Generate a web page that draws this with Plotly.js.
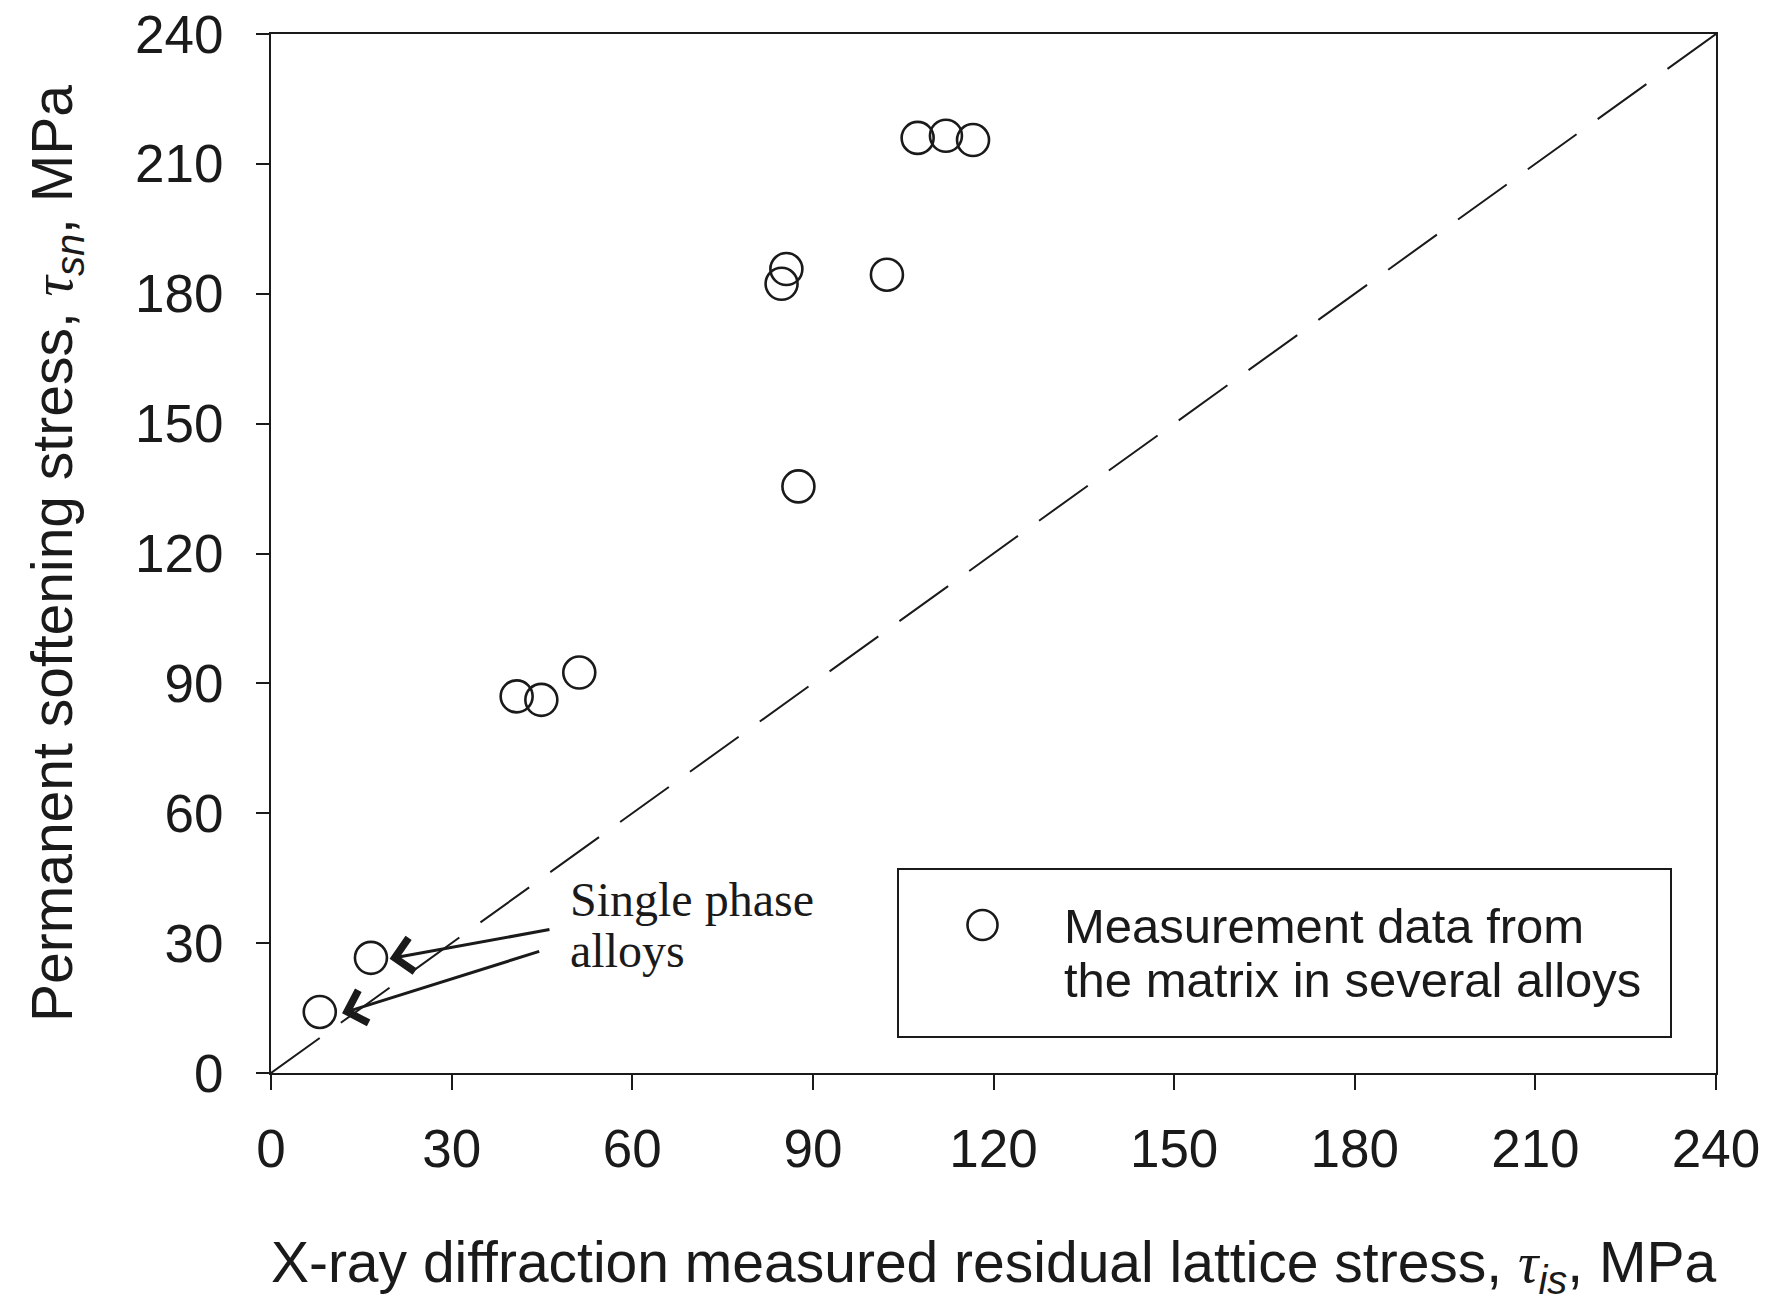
<!DOCTYPE html>
<html>
<head>
<meta charset="utf-8">
<script src="https://cdn.plot.ly/plotly-3.0.1.min.js"></script>
<style>
  html, body { margin: 0; padding: 0; background: #ffffff; }
  #chart { width: 1775px; height: 1306px; }
</style>
</head>
<body>
<div id="chart"></div>
<script>
const residualLatticeStress = [8.1, 16.6, 40.8, 44.9, 51.2, 84.8, 85.6, 87.6, 102.3, 107.4, 112.1, 116.6];
const softeningStress       = [14.1, 26.6, 87.0, 86.2, 92.5, 182.3, 185.7, 135.5, 184.4, 216.0, 216.5, 215.5];

// 1:1 reference line
const identityX = [0, 240];
const identityY = [0, 240];

// Axis ticks
const tickValues = [0, 30, 60, 90, 120, 150, 180, 210, 240];
const tickLabels = ['0', '30', '60', '90', '120', '150', '180', '210', '240'];

// Annotation for single-phase alloys (arrow tips at the two lowest points, tails at the label)
const arrowTipX  = [19.7, 11.8];
const arrowTipY  = [26.4, 13.8];
const arrowTailX = [46.5, 44.8];
const arrowTailY = [33.2, 28.2];
const noteLines  = ['Single phase', 'alloys'];
const noteLineY  = [40.0, 28.2];
const legendLines = ['Measurement data from', 'the matrix in several alloys'];

const ink = '#1a1a1a';
const sansFont = 'Liberation Sans, Arial, sans-serif';
const serifFont = 'Liberation Serif, Times New Roman, serif';

const traces = [
  {
    x: identityX, y: identityY,
    type: 'scatter', mode: 'lines',
    line: {color: ink, width: 2, dash: '60px,26px'},
    showlegend: false, hoverinfo: 'skip'
  },
  {
    x: residualLatticeStress, y: softeningStress,
    type: 'scatter', mode: 'markers',
    marker: {symbol: 'circle-open', size: 32, color: ink, line: {width: 2.6, color: ink}},
    name: 'Measurement data from the matrix in several alloys',
    showlegend: false
  }
];

const W = 1775, H = 1306;
const mL = 271, mR = 59, mT = 34, mB = 233;
const pw = W - mL - mR, ph = H - mT - mB;
function px(x) { return (x - mL) / pw; }
function py(y) { return (H - mB - y) / ph; }

const annotations = [];
for (let i = 0; i < arrowTipX.length; i++) {
  annotations.push({
    x: arrowTipX[i], y: arrowTipY[i], xref: 'x', yref: 'y',
    ax: arrowTailX[i], ay: arrowTailY[i], axref: 'x', ayref: 'y',
    text: '', showarrow: true, arrowhead: 4, arrowsize: 2.2, arrowwidth: 3, arrowcolor: ink
  });
}
noteLines.forEach((t, i) => {
  annotations.push({
    x: 49.3, y: noteLineY[i], xref: 'x', yref: 'y', xanchor: 'left', yanchor: 'middle',
    text: t, showarrow: false, align: 'left',
    font: {family: serifFont, size: 48, color: ink}
  });
});
// Legend text
const legendLineY = [926, 980];
legendLines.forEach((t, i) => {
  annotations.push({
    x: px(1062), y: py(legendLineY[i]), xref: 'paper', yref: 'paper', showarrow: false,
    text: t, align: 'left', xanchor: 'left', yanchor: 'middle',
    font: {family: sansFont, size: 49, color: ink}
  });
});

const shapes = [
  {type: 'rect', xref: 'paper', yref: 'paper',
   x0: px(898), x1: px(1671), y0: py(1037), y1: py(869),
   line: {color: ink, width: 2}, fillcolor: 'rgba(0,0,0,0)'},
  {type: 'circle', xref: 'paper', yref: 'paper',
   x0: px(982.5 - 15), x1: px(982.5 + 15), y0: py(925 + 15), y1: py(925 - 15),
   line: {color: ink, width: 2.6}}
];

const layout = {
  width: W, height: H,
  margin: {l: mL, r: mR, t: mT, b: mB},
  paper_bgcolor: '#ffffff', plot_bgcolor: '#ffffff',
  showlegend: false,
  font: {family: sansFont, color: ink},
  xaxis: {
    range: [0, 240], tickvals: tickValues, ticktext: tickLabels,
    ticks: 'outside', ticklen: 15, tickwidth: 2, tickcolor: ink,
    showline: true, linewidth: 2, linecolor: ink, mirror: true,
    showgrid: false, zeroline: false,
    tickfont: {family: sansFont, size: 53, color: ink},
    ticklabelstandoff: 13,
    title: {
      text: 'X-ray diffraction measured residual lattice stress, <span style="font-family:Liberation Serif"><i>τ</i></span><sub><i>is</i></sub>, MPa',
      font: {family: sansFont, size: 57, color: ink}, standoff: 66
    }
  },
  yaxis: {
    range: [0, 240], tickvals: tickValues, ticktext: tickLabels,
    ticks: 'outside', ticklen: 13, tickwidth: 2, tickcolor: ink,
    showline: true, linewidth: 2, linecolor: ink, mirror: true,
    showgrid: false, zeroline: false,
    tickfont: {family: sansFont, size: 53, color: ink},
    ticklabelstandoff: 22,
    title: {
      text: 'Permanent softening stress, <span style="font-family:Liberation Serif"><i>τ</i></span><sub><i>sn</i></sub>, MPa',
      font: {family: sansFont, size: 57, color: ink}, standoff: 44
    }
  },
  annotations: annotations,
  shapes: shapes
};

Plotly.newPlot('chart', traces, layout, {staticPlot: true, displayModeBar: false});
</script>
</body>
</html>
